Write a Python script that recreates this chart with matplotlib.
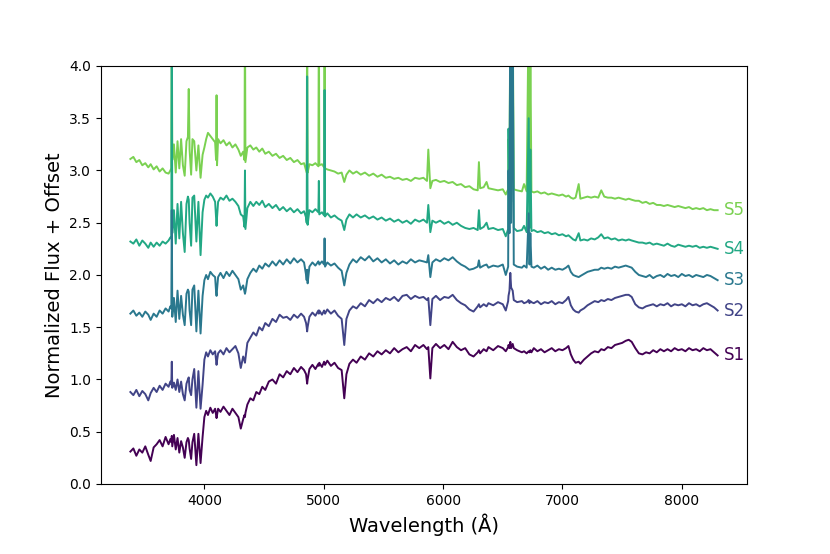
import matplotlib

matplotlib.use("Agg")
import matplotlib.pyplot as plt
import numpy as np

# shared wavelength grid (Angstrom)
wave = [
    3380, 3405, 3430, 3455, 3480, 3505, 3530, 3550, 3575, 3600, 3625, 3650, 3675, 3700, 3715,
    3723, 3727, 3731, 3745, 3760, 3775, 3790, 3805, 3820, 3835, 3850, 3862, 3869, 3876, 3889,
    3900, 3915, 3933, 3950, 3968, 3985, 4000, 4015, 4030, 4050, 4070, 4090, 4098, 4102, 4106,
    4115, 4135, 4160, 4185, 4210, 4235, 4260, 4285, 4305, 4325, 4336, 4340, 4344, 4360, 4385,
    4410, 4435, 4460, 4485, 4510, 4540, 4570, 4600, 4630, 4660, 4690, 4720, 4750, 4780, 4810,
    4835, 4852, 4857, 4861, 4865, 4880, 4905, 4930, 4955, 4959, 4963, 4985, 5003, 5007, 5011,
    5030, 5060, 5090, 5120, 5150, 5172, 5190, 5215, 5245, 5275, 5310, 5345, 5380, 5415, 5450,
    5485, 5520, 5555, 5590, 5625, 5660, 5695, 5730, 5765, 5800, 5835, 5865, 5876, 5893, 5910,
    5940, 5975, 6010, 6045, 6080, 6115, 6150, 6185, 6220, 6255, 6290, 6300, 6310, 6340, 6364,
    6380, 6420, 6460, 6500, 6525, 6545, 6548, 6556, 6563, 6570, 6583, 6592, 6620, 6660, 6678,
    6700, 6717, 6724, 6731, 6740, 6760, 6790, 6820, 6850, 6880, 6910, 6940, 6970, 7000, 7030,
    7050, 7070, 7090, 7110, 7136, 7150, 7180, 7210, 7240, 7270, 7300, 7325, 7350, 7380, 7410,
    7440, 7470, 7500, 7530, 7555, 7580, 7610, 7640, 7670, 7700, 7730, 7760, 7790, 7820, 7850,
    7880, 7910, 7940, 7970, 8000, 8030, 8060, 8090, 8120, 8150, 8180, 8210, 8240, 8270, 8300,
]

s1 = [
    0.31, 0.34, 0.27, 0.33, 0.30, 0.36, 0.28, 0.22, 0.35, 0.38, 0.42, 0.36, 0.45, 0.38, 0.43,
    0.40, 0.46, 0.36, 0.47, 0.33, 0.44, 0.30, 0.41, 0.35, 0.25, 0.40, 0.44, 0.42, 0.34, 0.24,
    0.40, 0.48, 0.18, 0.48, 0.20, 0.45, 0.64, 0.70, 0.66, 0.73, 0.68, 0.72, 0.66, 0.63, 0.66,
    0.72, 0.69, 0.74, 0.70, 0.66, 0.72, 0.68, 0.64, 0.53, 0.62, 0.66, 0.64, 0.68, 0.76, 0.82,
    0.80, 0.88, 0.86, 0.93, 0.90, 0.98, 1.00, 0.96, 1.05, 1.02, 1.08, 1.05, 1.11, 1.07, 1.12,
    1.09, 1.05, 1.00, 0.96, 1.00, 1.10, 1.14, 1.10, 1.15, 1.13, 1.16, 1.12, 1.17, 1.15, 1.14,
    1.18, 1.13, 1.16, 1.11, 1.09, 0.82, 1.05, 1.15, 1.19, 1.16, 1.22, 1.19, 1.25, 1.22, 1.27,
    1.24, 1.28, 1.25, 1.30, 1.26, 1.29, 1.31, 1.27, 1.33, 1.30, 1.33, 1.29, 1.31, 1.01, 1.30,
    1.34, 1.30, 1.33, 1.29, 1.36, 1.31, 1.28, 1.30, 1.24, 1.22, 1.26, 1.28, 1.25, 1.29, 1.27,
    1.31, 1.28, 1.32, 1.30, 1.27, 1.31, 1.33, 1.30, 1.36, 1.30, 1.34, 1.30, 1.28, 1.26, 1.27,
    1.25, 1.27, 1.26, 1.28, 1.26, 1.30, 1.27, 1.29, 1.26, 1.28, 1.30, 1.27, 1.29, 1.28, 1.30,
    1.32, 1.24, 1.19, 1.16, 1.17, 1.15, 1.19, 1.22, 1.25, 1.27, 1.26, 1.29, 1.28, 1.31, 1.30,
    1.33, 1.34, 1.35, 1.37, 1.38, 1.36, 1.30, 1.25, 1.24, 1.26, 1.25, 1.28, 1.26, 1.29, 1.27,
    1.29, 1.27, 1.30, 1.28, 1.29, 1.27, 1.30, 1.28, 1.29, 1.27, 1.30, 1.28, 1.29, 1.26, 1.23,
]

s2 = [
    0.88, 0.85, 0.90, 0.84, 0.89, 0.86, 0.80, 0.87, 0.92, 0.88, 0.94, 0.90, 0.96, 0.93, 0.98,
    0.95, 1.17, 0.92, 0.97, 0.90, 1.00, 0.88, 0.98, 0.86, 0.80, 0.96, 1.00, 1.02, 0.90, 0.85,
    1.00, 1.10, 0.73, 1.08, 0.72, 0.95, 1.19, 1.26, 1.22, 1.28, 1.24, 1.27, 1.18, 1.14, 1.18,
    1.25, 1.28, 1.24, 1.30, 1.26, 1.29, 1.32, 1.25, 1.11, 1.22, 1.18, 1.16, 1.20, 1.35, 1.40,
    1.45, 1.42, 1.50, 1.47, 1.54, 1.51, 1.58, 1.55, 1.62, 1.59, 1.60, 1.57, 1.62, 1.59, 1.63,
    1.60, 1.54, 1.50, 1.46, 1.50, 1.60, 1.64, 1.61, 1.66, 1.63, 1.66, 1.62, 1.66, 1.64, 1.63,
    1.67, 1.63, 1.66, 1.61, 1.58, 1.33, 1.58, 1.66, 1.70, 1.68, 1.73, 1.70, 1.76, 1.73, 1.77,
    1.74, 1.78, 1.76, 1.79, 1.75, 1.80, 1.81, 1.77, 1.80, 1.78, 1.79, 1.76, 1.78, 1.52, 1.77,
    1.80, 1.76, 1.79, 1.78, 1.81, 1.76, 1.73, 1.71, 1.67, 1.65, 1.70, 1.72, 1.69, 1.72, 1.70,
    1.73, 1.71, 1.74, 1.72, 1.66, 1.75, 1.80, 1.85, 2.02, 1.88, 1.85, 1.76, 1.74, 1.75, 1.73,
    1.74, 1.76, 1.73, 1.75, 1.74, 1.73, 1.75, 1.72, 1.74, 1.73, 1.75, 1.72, 1.74, 1.73, 1.76,
    1.79, 1.71, 1.67, 1.65, 1.64, 1.66, 1.68, 1.71, 1.73, 1.75, 1.74, 1.76, 1.75, 1.77, 1.76,
    1.78, 1.79, 1.80, 1.81, 1.81, 1.79, 1.72, 1.69, 1.68, 1.70, 1.71, 1.72, 1.70, 1.72, 1.71,
    1.73, 1.70, 1.72, 1.71, 1.72, 1.70, 1.73, 1.71, 1.72, 1.70, 1.72, 1.73, 1.71, 1.69, 1.66,
]

s3 = [
    1.63, 1.66, 1.61, 1.64, 1.60, 1.65, 1.62, 1.57, 1.63, 1.60, 1.66, 1.63, 1.68, 1.65, 1.70,
    1.68, 2.62, 1.60, 1.78, 1.55, 1.85, 1.58, 1.80, 1.62, 1.52, 1.82, 1.86, 1.84, 1.66, 1.52,
    1.86, 1.90, 1.46, 1.85, 1.44, 1.80, 1.95, 2.00, 1.96, 2.03, 2.00, 1.98, 1.84, 1.80, 1.86,
    1.98, 2.02, 1.97, 2.03, 1.99, 2.04, 2.00, 1.96, 1.86, 1.90, 1.84, 1.82, 1.84, 1.96, 2.02,
    2.06, 2.03, 2.09, 2.06, 2.11, 2.08, 2.13, 2.09, 2.14, 2.10, 2.15, 2.11, 2.16, 2.12, 2.15,
    2.12, 2.00, 1.95, 2.05, 1.92, 2.08, 2.12, 2.09, 2.13, 2.12, 2.10, 2.13, 2.10, 2.35, 2.08,
    2.12, 2.09, 2.11, 2.07, 2.04, 1.90, 2.02, 2.10, 2.15, 2.12, 2.17, 2.14, 2.18, 2.13, 2.16,
    2.12, 2.15, 2.11, 2.14, 2.10, 2.13, 2.11, 2.15, 2.12, 2.14, 2.13, 2.12, 2.19, 1.98, 2.12,
    2.15, 2.13, 2.16, 2.14, 2.17, 2.13, 2.10, 2.08, 2.05, 2.06, 2.08, 2.14, 2.07, 2.09, 2.10,
    2.07, 2.09, 2.08, 2.10, 2.00, 2.08, 3.00, 2.40, 4.60, 2.50, 4.60, 2.10, 2.08, 2.07, 2.09,
    2.07, 2.59, 2.10, 2.40, 2.08, 2.07, 2.09, 2.06, 2.08, 2.05, 2.07, 2.05, 2.06, 2.05, 2.07,
    2.09, 2.03, 2.00, 1.99, 1.98, 1.99, 2.01, 2.03, 2.04, 2.05, 2.05, 2.07, 2.06, 2.07, 2.06,
    2.08, 2.07, 2.08, 2.09, 2.08, 2.07, 2.03, 2.00, 1.99, 1.98, 2.00, 1.97, 1.99, 2.00, 1.98,
    2.01, 1.99, 2.00, 1.98, 2.01, 1.99, 2.00, 1.98, 2.00, 1.99, 1.98, 2.00, 1.99, 1.97, 1.95,
]

s4 = [
    2.32, 2.30, 2.34, 2.28, 2.33, 2.30, 2.26, 2.31, 2.27, 2.31, 2.28, 2.32, 2.30, 2.33, 2.36,
    2.35, 4.60, 2.40, 2.62, 2.30, 2.68, 2.35, 2.70, 2.40, 2.22, 2.68, 2.75, 2.72, 2.50, 2.28,
    2.74, 2.76, 2.32, 2.70, 2.19, 2.60, 2.72, 2.76, 2.74, 2.78, 2.75, 2.70, 2.55, 2.47, 2.55,
    2.70, 2.74, 2.72, 2.76, 2.71, 2.73, 2.70, 2.66, 2.58, 2.56, 2.46, 3.00, 2.44, 2.64, 2.70,
    2.66, 2.70, 2.67, 2.71, 2.65, 2.68, 2.64, 2.67, 2.62, 2.65, 2.61, 2.64, 2.60, 2.63, 2.59,
    2.61, 2.55, 2.50, 3.90, 2.48, 2.62, 2.60, 2.63, 2.60, 2.90, 2.58, 2.60, 2.57, 3.77, 2.56,
    2.59, 2.55, 2.57, 2.54, 2.52, 2.43, 2.53, 2.58, 2.55, 2.58, 2.55, 2.57, 2.54, 2.56, 2.53,
    2.55, 2.52, 2.54, 2.51, 2.53, 2.50, 2.52, 2.49, 2.53, 2.51, 2.53, 2.50, 2.67, 2.41, 2.52,
    2.50, 2.52, 2.49, 2.51, 2.48, 2.50, 2.47, 2.45, 2.44, 2.45, 2.43, 2.62, 2.44, 2.46, 2.50,
    2.44, 2.45, 2.43, 2.44, 2.37, 2.44, 3.40, 2.60, 4.60, 2.70, 4.20, 2.45, 2.42, 2.43, 2.47,
    2.41, 3.50, 2.45, 3.20, 2.42, 2.43, 2.41, 2.42, 2.40, 2.41, 2.39, 2.40, 2.38, 2.39, 2.37,
    2.38, 2.36, 2.34, 2.33, 2.40, 2.33, 2.34, 2.33, 2.35, 2.34, 2.36, 2.39, 2.35, 2.36, 2.34,
    2.35, 2.33, 2.34, 2.33, 2.34, 2.33, 2.32, 2.31, 2.31, 2.30, 2.31, 2.29, 2.30, 2.29, 2.28,
    2.30, 2.28, 2.27, 2.29, 2.28, 2.27, 2.28, 2.27, 2.28, 2.26, 2.27, 2.26, 2.27, 2.26, 2.25,
]

s5 = [
    3.11, 3.13, 3.08, 3.10, 3.05, 3.07, 3.03, 3.06, 3.01, 3.04, 2.99, 3.02, 2.98, 2.97, 3.00,
    3.02, 4.60, 3.10, 3.25, 2.98, 3.28, 3.02, 3.30, 3.05, 2.95, 3.28, 3.32, 3.78, 3.20, 2.96,
    3.30, 3.28, 3.00, 3.24, 2.93, 3.15, 3.22, 3.30, 3.36, 3.33, 3.30, 3.27, 3.10, 3.72, 3.05,
    3.30, 3.26, 3.29, 3.24, 3.27, 3.22, 3.25, 3.20, 3.14, 3.18, 3.10, 4.60, 3.08, 3.22, 3.24,
    3.20, 3.22, 3.18, 3.21, 3.16, 3.18, 3.14, 3.16, 3.12, 3.14, 3.10, 3.12, 3.08, 3.10, 3.06,
    3.07, 3.00, 2.98, 4.60, 2.98, 3.06, 3.05, 3.07, 3.04, 4.60, 3.05, 3.06, 3.03, 4.60, 3.02,
    3.01, 3.00, 2.99, 2.97, 2.98, 2.89, 2.96, 3.00, 2.97, 2.99, 2.96, 2.98, 2.95, 2.97, 2.94,
    2.96, 2.93, 2.94, 2.92, 2.93, 2.91, 2.92, 2.90, 2.93, 2.92, 2.93, 2.90, 3.20, 2.83, 2.90,
    2.91, 2.89, 2.90, 2.88, 2.89, 2.86, 2.87, 2.84, 2.85, 2.82, 2.81, 3.08, 2.83, 2.84, 2.89,
    2.83, 2.82, 2.81, 2.82, 2.77, 2.82, 3.30, 2.90, 4.60, 2.95, 4.60, 2.82, 2.81, 2.80, 2.87,
    2.80, 4.60, 2.85, 4.20, 2.80, 2.79, 2.80, 2.78, 2.79, 2.77, 2.78, 2.77, 2.76, 2.77, 2.75,
    2.76, 2.74, 2.73, 2.74, 2.87, 2.73, 2.74, 2.75, 2.74, 2.75, 2.74, 2.81, 2.75, 2.74, 2.74,
    2.73, 2.74, 2.73, 2.72, 2.73, 2.72, 2.71, 2.71, 2.69, 2.70, 2.68, 2.69, 2.67, 2.67, 2.66,
    2.67, 2.66, 2.65, 2.66, 2.65, 2.64, 2.65, 2.63, 2.64, 2.63, 2.64, 2.62, 2.63, 2.62, 2.62,
]

names = ["S1", "S2", "S3", "S4", "S5"]
spectra = [s1, s2, s3, s4, s5]
colors = plt.cm.viridis(np.linspace(0, 0.8, len(names)))

fig = plt.figure(figsize=(8.3, 5.54), dpi=100)
ax = fig.add_axes([0.1217, 0.1264, 0.7783, 0.7545])

# S5 drawn first so the lower spectra sit on top
for name, flux, col in reversed(list(zip(names, spectra, colors))):
    ax.plot(wave, flux, color=col, lw=1.4)
    ax.text(wave[-1] + 50, flux[-1], name, color=col, fontsize=12,
            ha="left", va="center")

ax.set_ylim(0, 4)
ax.set_yticks(np.arange(0, 4.01, 0.5))
ax.set_xticks([4000, 5000, 6000, 7000, 8000])
ax.tick_params(labelsize=10)
ax.set_xlabel("Wavelength (Å)", fontsize=14)
ax.set_ylabel("Normalized Flux + Offset", fontsize=14)

fig.savefig("out.png", dpi=100)
